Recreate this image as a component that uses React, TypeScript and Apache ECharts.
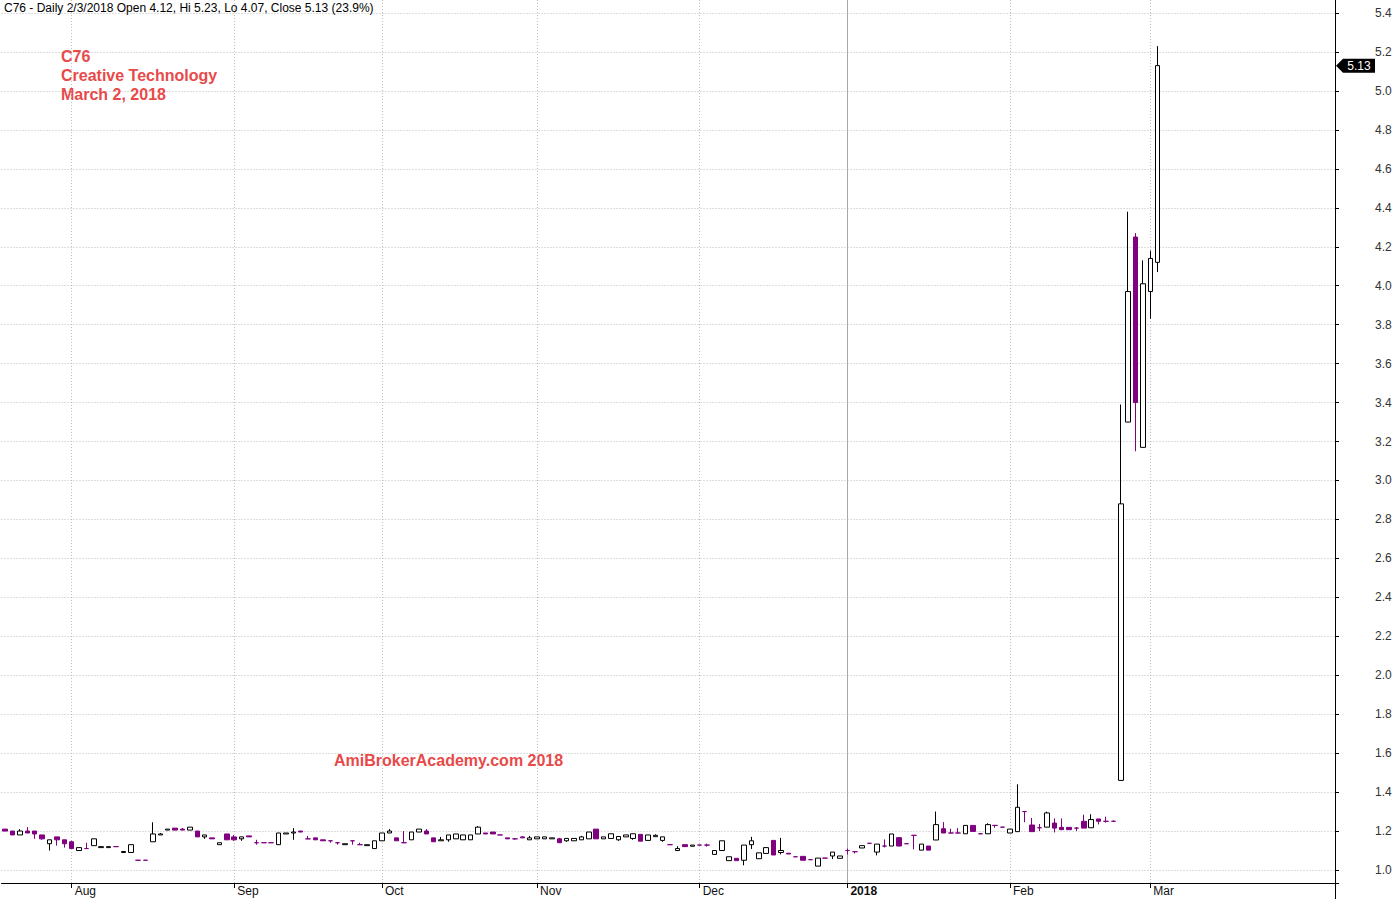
import React, { useEffect, useRef } from 'react';
import * as echarts from 'echarts';

// ---- trading days (day-of-month lists per month) ----
const jul2017 = [19, 20, 21, 24, 25, 26, 27, 28, 31];
const aug2017 = [1, 2, 3, 4, 7, 8, 10, 11, 14, 15, 16, 17, 18, 21, 22, 23, 24, 25, 28, 29, 30, 31];
const sep2017 = [4, 5, 6, 7, 8, 11, 12, 13, 14, 15, 18, 19, 20, 21, 22, 25, 26, 27, 28, 29];
const oct2017 = [2, 3, 4, 5, 6, 9, 10, 11, 12, 13, 16, 17, 19, 20, 23, 24, 25, 26, 27, 30, 31];
const nov2017 = [1, 2, 3, 6, 7, 8, 9, 10, 13, 14, 15, 16, 17, 20, 21, 22, 23, 24, 27, 28, 29, 30];
const dec2017 = [1, 4, 5, 6, 7, 8, 11, 12, 13, 14, 15, 18, 19, 20, 21, 22, 26, 27, 28, 29];
const jan2018 = [2, 3, 4, 5, 8, 9, 10, 11, 12, 15, 16, 17, 18, 19, 22, 23, 24, 25, 26, 29, 30, 31];
const feb2018 = [1, 2, 5, 6, 7, 8, 9, 12, 13, 14, 15, 19, 20, 21, 22, 23, 26, 27, 28];
const mar2018 = [1, 2];

const monthLists: [number, number, number[]][] = [
  [2017, 7, jul2017], [2017, 8, aug2017], [2017, 9, sep2017], [2017, 10, oct2017],
  [2017, 11, nov2017], [2017, 12, dec2017], [2018, 1, jan2018], [2018, 2, feb2018], [2018, 3, mar2018],
];

// ---- OHLC values ----
const openPrices = [
  1.21, 1.20, 1.18, 1.20, 1.20, 1.18, 1.135, 1.17, 1.155, 1.145,
  1.10, 1.11, 1.125, 1.115, 1.115, 1.12, 1.09, 1.09, 1.05, 1.05,
  1.145, 1.18, 1.205, 1.215, 1.21, 1.205, 1.20, 1.17, 1.165, 1.13,
  1.185, 1.17, 1.16, 1.175, 1.14, 1.14, 1.14, 1.13, 1.185, 1.19,
  1.20, 1.16, 1.165, 1.155, 1.15, 1.14, 1.13, 1.15, 1.13, 1.125,
  1.11, 1.15, 1.19, 1.165, 1.14, 1.155, 1.195, 1.20, 1.165, 1.15,
  1.155, 1.16, 1.155, 1.155, 1.185, 1.19, 1.195, 1.18, 1.165, 1.16,
  1.17, 1.155, 1.16, 1.16, 1.16, 1.16, 1.15, 1.15, 1.155, 1.16,
  1.21, 1.16, 1.162, 1.155, 1.17, 1.162, 1.183, 1.152, 1.171, 1.152,
  1.13, 1.10, 1.13, 1.122, 1.128, 1.128, 1.08, 1.10, 1.048, 1.06,
  1.05, 1.13, 1.058, 1.085, 1.152, 1.09, 1.086, 1.068, 1.07, 1.053,
  1.02, 1.061, 1.072, 1.06, 1.10, 1.094, 1.113, 1.137, 1.092, 1.123,
  1.123, 1.166, 1.135, 1.178, 1.102, 1.123, 1.154, 1.212, 1.19, 1.19,
  1.186, 1.229, 1.186, 1.186, 1.229, 1.22, 1.19, 1.197, 1.30, 1.231,
  1.217, 1.22, 1.241, 1.219, 1.219, 1.215, 1.25, 1.217, 1.262, 1.25,
  1.25, 1.46, 3.30, 4.25, 3.17, 3.97, 4.12,
];
const highPrices = [
  1.21, 1.20, 1.21, 1.22, 1.20, 1.18, 1.155, 1.17, 1.155, 1.15,
  1.115, 1.14, 1.16, 1.12, 1.12, 1.12, 1.095, 1.13, 1.05, 1.05,
  1.245, 1.19, 1.21, 1.215, 1.215, 1.22, 1.20, 1.18, 1.165, 1.14,
  1.185, 1.18, 1.17, 1.175, 1.155, 1.14, 1.14, 1.19, 1.19, 1.215,
  1.20, 1.175, 1.165, 1.155, 1.15, 1.14, 1.135, 1.15, 1.14, 1.13,
  1.15, 1.19, 1.21, 1.165, 1.20, 1.195, 1.21, 1.21, 1.165, 1.17,
  1.18, 1.185, 1.18, 1.18, 1.225, 1.19, 1.195, 1.18, 1.165, 1.16,
  1.175, 1.175, 1.17, 1.17, 1.165, 1.165, 1.162, 1.162, 1.175, 1.195,
  1.21, 1.17, 1.186, 1.172, 1.18, 1.186, 1.183, 1.18, 1.183, 1.17,
  1.13, 1.122, 1.13, 1.128, 1.128, 1.135, 1.10, 1.15, 1.068, 1.06,
  1.128, 1.17, 1.088, 1.115, 1.152, 1.165, 1.086, 1.068, 1.07, 1.053,
  1.061, 1.061, 1.092, 1.072, 1.11, 1.094, 1.125, 1.137, 1.133, 1.157,
  1.185, 1.166, 1.135, 1.178, 1.133, 1.123, 1.30, 1.246, 1.212, 1.215,
  1.229, 1.229, 1.186, 1.24, 1.229, 1.22, 1.21, 1.44, 1.30, 1.267,
  1.236, 1.30, 1.265, 1.265, 1.219, 1.22, 1.284, 1.286, 1.262, 1.274,
  1.255, 3.39, 4.38, 4.27, 4.13, 4.18, 5.23,
];
const lowPrices = [
  1.20, 1.18, 1.18, 1.19, 1.16, 1.155, 1.10, 1.125, 1.115, 1.11,
  1.10, 1.11, 1.125, 1.115, 1.115, 1.12, 1.09, 1.09, 1.05, 1.05,
  1.145, 1.18, 1.205, 1.205, 1.205, 1.205, 1.17, 1.16, 1.16, 1.13,
  1.155, 1.15, 1.15, 1.17, 1.13, 1.14, 1.14, 1.13, 1.185, 1.155,
  1.195, 1.16, 1.155, 1.15, 1.14, 1.13, 1.13, 1.13, 1.13, 1.125,
  1.11, 1.15, 1.19, 1.15, 1.14, 1.155, 1.195, 1.185, 1.145, 1.15,
  1.145, 1.16, 1.155, 1.155, 1.185, 1.185, 1.185, 1.18, 1.16, 1.155,
  1.165, 1.155, 1.16, 1.16, 1.16, 1.14, 1.145, 1.15, 1.155, 1.16,
  1.16, 1.16, 1.162, 1.15, 1.17, 1.155, 1.148, 1.152, 1.171, 1.145,
  1.13, 1.10, 1.12, 1.122, 1.128, 1.12, 1.08, 1.10, 1.048, 1.048,
  1.024, 1.108, 1.058, 1.085, 1.077, 1.08, 1.082, 1.068, 1.05, 1.053,
  1.02, 1.061, 1.056, 1.06, 1.08, 1.085, 1.113, 1.137, 1.075, 1.116,
  1.123, 1.123, 1.135, 1.106, 1.102, 1.102, 1.154, 1.19, 1.19, 1.19,
  1.186, 1.198, 1.186, 1.186, 1.217, 1.22, 1.19, 1.197, 1.245, 1.197,
  1.20, 1.22, 1.193, 1.207, 1.207, 1.20, 1.215, 1.217, 1.234, 1.243,
  1.25, 1.46, 3.30, 3.15, 3.17, 3.83, 4.07,
];
const closePrices = [
  1.20, 1.18, 1.20, 1.19, 1.185, 1.16, 1.155, 1.155, 1.135, 1.11,
  1.115, 1.11, 1.16, 1.12, 1.12, 1.12, 1.095, 1.13, 1.05, 1.05,
  1.185, 1.185, 1.21, 1.205, 1.205, 1.22, 1.17, 1.18, 1.16, 1.14,
  1.155, 1.155, 1.17, 1.17, 1.14, 1.14, 1.14, 1.19, 1.19, 1.195,
  1.195, 1.16, 1.155, 1.15, 1.15, 1.14, 1.135, 1.15, 1.13, 1.13,
  1.15, 1.19, 1.20, 1.15, 1.14, 1.195, 1.21, 1.185, 1.145, 1.155,
  1.18, 1.185, 1.18, 1.18, 1.22, 1.185, 1.185, 1.18, 1.16, 1.16,
  1.165, 1.165, 1.17, 1.17, 1.165, 1.14, 1.162, 1.162, 1.17, 1.195,
  1.16, 1.17, 1.186, 1.172, 1.18, 1.186, 1.148, 1.18, 1.178, 1.17,
  1.13, 1.11, 1.12, 1.128, 1.128, 1.128, 1.10, 1.15, 1.068, 1.048,
  1.128, 1.15, 1.088, 1.115, 1.077, 1.10, 1.082, 1.068, 1.05, 1.053,
  1.061, 1.061, 1.092, 1.072, 1.10, 1.094, 1.125, 1.137, 1.133, 1.123,
  1.185, 1.123, 1.135, 1.178, 1.133, 1.102, 1.233, 1.19, 1.19, 1.19,
  1.229, 1.198, 1.186, 1.233, 1.229, 1.22, 1.21, 1.322, 1.30, 1.197,
  1.217, 1.293, 1.215, 1.207, 1.207, 1.215, 1.215, 1.259, 1.25, 1.25,
  1.25, 2.88, 3.97, 3.40, 4.01, 4.14, 5.13,
];

const monthAbbr = ['Jan', 'Feb', 'Mar', 'Apr', 'May', 'Jun', 'Jul', 'Aug', 'Sep', 'Oct', 'Nov', 'Dec'];
const titleLines = ['C76', 'Creative Technology', 'March 2, 2018'];
const watermark = 'AmiBrokerAcademy.com 2018';
const symbol = 'C76';
const emptySlots = 24;

// axis scale
const Y_MIN = 0.8;
const Y_MAX = 5.6;
const Y_STEP = 0.2;
const X_AXIS_VALUE = 0.9335; // price level where the x axis line sits

const PURPLE = '#800080';
const RED = '#e84a4a';
const FONT = '"Liberation Sans", Arial, sans-serif';

const dates: string[] = [];
monthLists.forEach(([y, m, days]) =>
  days.forEach((d) => dates.push(`${y}-${String(m).padStart(2, '0')}-${String(d).padStart(2, '0')}`))
);
const categories = dates.concat(Array.from({ length: emptySlots }, (_, i) => `pad-${i}`));
const monthStart = categories.map((c, i) => {
  if (i >= dates.length) return false;
  if (i === 0) return false;
  return c.slice(0, 7) !== categories[i - 1].slice(0, 7);
});

export default function App() {
  const ref = useRef<HTMLDivElement>(null);

  useEffect(() => {
    if (!ref.current) return;
    const chart = echarts.init(ref.current, null, { renderer: 'svg' });

    const candleData = dates.map((_, i) => {
      const v = [openPrices[i], closePrices[i], lowPrices[i], highPrices[i]];
      if (openPrices[i] === closePrices[i]) {
        return {
          value: v,
          itemStyle: {
            color: PURPLE, color0: PURPLE, borderColor: PURPLE, borderColor0: PURPLE, borderColorDoji: PURPLE,
          },
        };
      }
      return v;
    });

    const gridLines: any[] = [];
    monthStart.forEach((ms, i) => {
      if (!ms) return;
      const isYear = categories[i].slice(5, 7) === '01';
      gridLines.push([
        {
          coord: [categories[i], X_AXIS_VALUE],
          lineStyle: isYear
            ? { color: '#a8a8a8', type: 'solid', width: 1 }
            : { color: '#bdbdbd', type: [1, 2], width: 1 },
        },
        { coord: [categories[i], Y_MAX] },
      ]);
    });

    const gridTop = -25.9;
    const gridBottomY = 908.95;
    const axisLineY = 883;

    const option: any = {
      animation: false,
      backgroundColor: '#ffffff',
      grid: {
        left: 1.5,
        right: 57.3,
        top: gridTop,
        bottom: 899 - gridBottomY,
        containLabel: false,
        outerBoundsMode: 'none',
      },
      xAxis: {
        type: 'category',
        data: categories,
        boundaryGap: true,
        offset: axisLineY - gridBottomY,
        axisLine: { show: true, onZero: false, lineStyle: { color: '#000', width: 1 } },
        axisTick: {
          show: true,
          alignWithLabel: true,
          interval: (i: number) => monthStart[i],
          length: 5,
          lineStyle: { color: '#000', width: 1 },
        },
        axisLabel: {
          interval: (i: number) => monthStart[i],
          formatter: (v: string) => {
            const m = parseInt(v.slice(5, 7), 10);
            if (m === 1) return `{y|${v.slice(0, 4)}}`;
            return monthAbbr[m - 1];
          },
          align: 'left',
          margin: 2,
          padding: [0, 0, 0, 3],
          fontSize: 12,
          fontFamily: FONT,
          color: '#111',
          rich: { y: { fontWeight: 'bold', fontSize: 12, fontFamily: FONT, color: '#111' } },
        },
        splitLine: { show: false },
      },
      yAxis: {
        type: 'value',
        position: 'right',
        min: Y_MIN,
        max: Y_MAX,
        interval: Y_STEP,
        offset: -3.7,
        axisLine: { show: true, lineStyle: { color: '#000', width: 1 } },
        axisTick: { show: true, length: 4, lineStyle: { color: '#000' } },
        axisLabel: {
          margin: 40,
          fontSize: 12,
          fontFamily: FONT,
          color: '#333',
          formatter: (v: number) => (v < 0.95 || v > 5.45 ? '' : v.toFixed(1)),
        },
        splitLine: { show: true, lineStyle: { color: '#bdbdbd', type: [1, 2], width: 1 } },
      },
      series: [
        {
          type: 'candlestick',
          data: candleData,
          barWidth: 5,
          z: 3,
          itemStyle: {
            color: '#ffffff',
            color0: PURPLE,
            borderColor: '#000000',
            borderColor0: PURPLE,
            borderColorDoji: PURPLE,
            borderWidth: 1,
          },
          emphasis: { disabled: true },
          markLine: {
            silent: true,
            z: 1,
            symbol: ['none', 'none'],
            label: { show: false },
            animation: false,
            data: gridLines,
          },
        },
      ],
    };
    chart.setOption(option);

    const n = dates.length;
    const lastClose = closePrices[n - 1];
    const prevClose = closePrices[n - 2];
    const pct = ((lastClose - prevClose) / prevClose) * 100;
    const [ly, lm, ld] = dates[n - 1].split('-').map((s) => parseInt(s, 10));
    const header = `${symbol} - Daily ${ld}/${lm}/${ly} Open ${openPrices[n - 1].toFixed(2)}, Hi ${highPrices[n - 1].toFixed(2)}, Lo ${lowPrices[n - 1].toFixed(2)}, Close ${lastClose.toFixed(2)} (${pct.toFixed(1)}%)`;
    const py = chart.convertToPixel({ yAxisIndex: 0 }, lastClose) as number;
    const axisX = 1335;

    chart.setOption({
      graphic: [
        {
          type: 'text',
          x: 4,
          y: 7.5,
          silent: true,
          style: { text: header, fill: '#000', font: `12px ${FONT}`, textVerticalAlign: 'middle' },
        },
        ...titleLines.map((t, i) => ({
          type: 'text',
          x: 61,
          y: 56 + i * 19,
          silent: true,
          style: { text: t, fill: RED, font: `bold 16px ${FONT}`, textVerticalAlign: 'middle' },
        })),
        {
          type: 'text',
          x: 334,
          y: 760,
          silent: true,
          style: { text: watermark, fill: RED, font: `bold 16px ${FONT}`, textVerticalAlign: 'middle' },
        },
        {
          type: 'group',
          x: axisX + 1,
          y: py,
          silent: true,
          children: [
            {
              type: 'polygon',
              shape: { points: [[0, 0], [7, -7], [39, -7], [39, 7], [7, 7]] },
              style: { fill: '#000' },
            },
            {
              type: 'text',
              x: 23,
              y: 0,
              style: {
                text: lastClose.toFixed(2),
                fill: '#fff',
                font: `12px ${FONT}`,
                textAlign: 'center',
                textVerticalAlign: 'middle',
              },
            },
          ],
        },
      ],
    });

    return () => chart.dispose();
  }, []);

  return (
    <div
      ref={ref}
      style={{ position: 'fixed', left: 0, top: 0, width: 1396, height: 899, background: '#fff' }}
    />
  );
}
